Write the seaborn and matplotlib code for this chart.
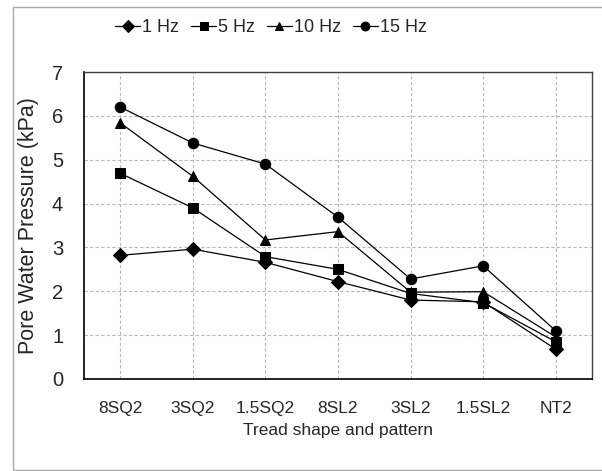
import matplotlib
matplotlib.use("Agg")
import matplotlib.pyplot as plt
import seaborn as sns
import pandas as pd
from matplotlib.patches import Rectangle
from matplotlib.ticker import FixedLocator

categories = ["8SQ2", "3SQ2", "1.5SQ2", "8SL2", "3SL2", "1.5SL2", "NT2"]
series_names = ["1 Hz", "5 Hz", "10 Hz", "15 Hz"]
hz1 = [2.82, 2.96, 2.66, 2.22, 1.80, 1.76, 0.68]
hz5 = [4.69, 3.90, 2.79, 2.50, 1.95, 1.74, 0.85]
hz10 = [5.84, 4.62, 3.17, 3.36, 1.98, 1.99, 0.96]
hz15 = [6.20, 5.38, 4.90, 3.69, 2.28, 2.58, 1.10]
y_ticks = [0, 1, 2, 3, 4, 5, 6, 7]

rows = []
for name, vals in zip(series_names, [hz1, hz5, hz10, hz15]):
    for c, v in zip(categories, vals):
        rows.append({"shape": c, "pwp": v, "freq": name})
df = pd.DataFrame(rows)

sns.set_style("white")
plt.rcParams["font.family"] = ["Liberation Sans", "DejaVu Sans"]

fig = plt.figure(figsize=(6.02, 4.71), dpi=100)
ax = fig.add_axes([84/602, 1-379/471, (592-84)/602, (379-72)/471])

markers = {"1 Hz": "D", "5 Hz": "s", "10 Hz": "^", "15 Hz": "o"}
sns.lineplot(data=df, x="shape", y="pwp", hue="freq", style="freq",
             hue_order=series_names, style_order=series_names,
             palette=["black"]*4, markers=markers, dashes=False, sort=False,
             linewidth=0.9, markersize=7.5, markeredgecolor="black", ax=ax)

ax.set_xlim(-0.5, 6.5)
ax.set_ylim(0, 7)
ax.set_yticks(y_ticks)
ax.xaxis.set_minor_locator(FixedLocator([i - 0.5 for i in range(len(categories) + 1)]))
ax.tick_params(axis="x", which="major", length=0, pad=16, labelsize=12.5)
ax.tick_params(axis="x", which="minor", length=3, direction="out", width=0.8, color="black")
ax.tick_params(axis="y", which="major", length=6, direction="out", width=0.9,
               color="black", pad=9, labelsize=14.5)
ax.grid(True, which="major", linestyle=(0, (3, 2)), color="#b8b8b8", linewidth=0.8)
ax.set_axisbelow(True)

for s in ["left", "bottom"]:
    ax.spines[s].set_color("black")
    ax.spines[s].set_linewidth(1.2)
for s in ["top", "right"]:
    ax.spines[s].set_color("#404040")
    ax.spines[s].set_linewidth(1.0)

ax.set_xlabel("Tread shape and pattern", fontsize=12.5, labelpad=5)
ax.set_ylabel("Pore Water Pressure (kPa)", fontsize=15.5, labelpad=9)

sns.move_legend(ax, "center", bbox_to_anchor=(271/602, 1-28/471),
                bbox_transform=fig.transFigure, ncol=4, frameon=False, title=None,
                fontsize=13, handlelength=1.4, handletextpad=0.1,
                columnspacing=0.65, borderpad=0, markerscale=0.85)

fig.patches.append(Rectangle((13/602, 1/471), 1.0, (470-7)/471,
                             transform=fig.transFigure, fill=False,
                             edgecolor="#a8a8a8", linewidth=1.0, zorder=-1))

fig.savefig("out.png", dpi=100)
